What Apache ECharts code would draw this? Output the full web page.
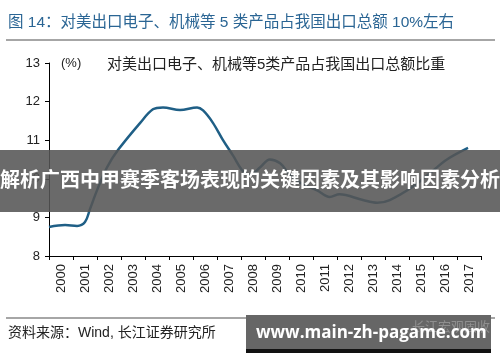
<!DOCTYPE html>
<html>
<head>
<meta charset="utf-8">
<script src="https://cdn.jsdelivr.net/npm/echarts@6/dist/echarts.min.js"></script>
<style>
html,body{margin:0;padding:0;background:#fff;}
#c{width:500px;height:362px;}
</style>
</head>
<body>
<div id="c"></div>
<script>
var categories = ['2000','2001','2002','2003','2004','2005','2006','2007','2008','2009','2010','2011','2012','2013','2014','2015','2016','2017'];
var timePoints = [2000.0,2000.67,2001.17,2001.5,2001.7,2002.0,2002.42,2002.88,2003.8,2004.33,2004.75,2005.46,2006.17,2006.42,2006.83,2007.25,2007.67,2008.08,2008.38,2008.8,2009.2,2009.63,2010.04,2010.46,2011.17,2011.7,2012.1,2013.08,2013.67,2014.2,2015.17,2015.88,2016.58,2017.46];
var shareValues = [8.75,8.8,8.78,8.88,9.2,9.7,10.3,10.75,11.45,11.8,11.85,11.78,11.85,11.77,11.45,11.0,10.6,10.2,10.1,10.3,10.5,10.4,10.1,9.9,9.7,9.53,9.6,9.45,9.38,9.45,9.8,10.15,10.5,10.8];
var yTicks = [8,9,10,11,12,13];
var seriesName = '对美出口电子、机械等5类产品占我国出口总额比重';
var titleText = '图 14：对美出口电子、机械等 5 类产品占我国出口总额 10%左右';
var sourceText = '资料来源：Wind, 长江证券研究所';
var bannerText = '解析广西中甲赛季客场表现的关键因素及其影响因素分析';
var watermarkText = 'www.main-zh-pagame.com';

var lineData = timePoints.map(function(t,i){return [t, shareValues[i]];});
var font = '"Liberation Sans", Arial, "Noto Sans CJK SC", sans-serif';
var chart = echarts.init(document.getElementById('c'));
chart.setOption({
  animation:false,
  textStyle:{fontFamily:font},
  grid:{left:49,right:19,top:63,bottom:106,containLabel:false},
  xAxis:[{
    type:'category',data:categories,boundaryGap:true,
    axisLine:{lineStyle:{color:'#000',width:1}},
    axisTick:{show:true,length:4,alignWithLabel:false,lineStyle:{color:'#000'}},
    axisLabel:{rotate:90,color:'#222',fontSize:13,margin:8,fontFamily:font},
    splitLine:{show:false}
  },{
    type:'value',min:2000,max:2018,show:false,position:'bottom'
  }],
  yAxis:{
    type:'value',min:yTicks[0],max:yTicks[yTicks.length-1],interval:1,
    axisLine:{show:true,lineStyle:{color:'#000',width:1}},
    axisTick:{show:true,length:4,lineStyle:{color:'#000'}},
    axisLabel:{color:'#222',fontSize:13,margin:9,fontFamily:font},
    splitLine:{show:false}
  },
  series:[{
    type:'line',name:seriesName,xAxisIndex:1,data:lineData,
    smooth:0.35,showSymbol:false,
    lineStyle:{color:'#1f5f86',width:2.5}
  }],
  graphic:[
    {type:'text',left:8,top:15,style:{text:titleText,fill:'#2a6594',font:'15.5px '+font}},
    {type:'line',shape:{x1:6,y1:40,x2:495,y2:40},style:{stroke:'#888',lineWidth:1.5}},
    {type:'text',left:61,top:57,style:{text:'(%)',fill:'#222',font:'13px '+font}},
    {type:'text',left:107,top:57,style:{text:seriesName,fill:'#222',font:'15px '+font}},
    {type:'rect',shape:{x:0,y:150,width:500,height:62},style:{fill:'rgba(85,85,85,0.88)'},z:100},
    {type:'text',left:'center',top:169,z:101,style:{text:bannerText,fill:'#fff',font:'bold 20px "Noto Sans CJK SC", sans-serif'}},
    {type:'line',shape:{x1:6,y1:318,x2:495,y2:318},style:{stroke:'#888',lineWidth:1.5}},
    {type:'text',left:8,top:326,style:{text:sourceText,fill:'#222',font:'14px '+font}},
    {type:'rect',shape:{x:246,y:315,width:245,height:38},style:{fill:'#666'},z:100},
    {type:'rect',shape:{x:246,y:349,width:245,height:4},style:{fill:'#111'},z:100},
    {type:'text',left:412,top:320,z:101,style:{text:'长江宏观固收',fill:'rgba(170,170,170,0.6)',font:'13px "Noto Sans CJK SC", sans-serif'}},
    {type:'text',left:256,top:325,z:102,style:{text:watermarkText,fill:'#fff',font:'bold 17px "Open Sans", "DejaVu Sans", sans-serif'}}
  ]
});
</script>
</body>
</html>
